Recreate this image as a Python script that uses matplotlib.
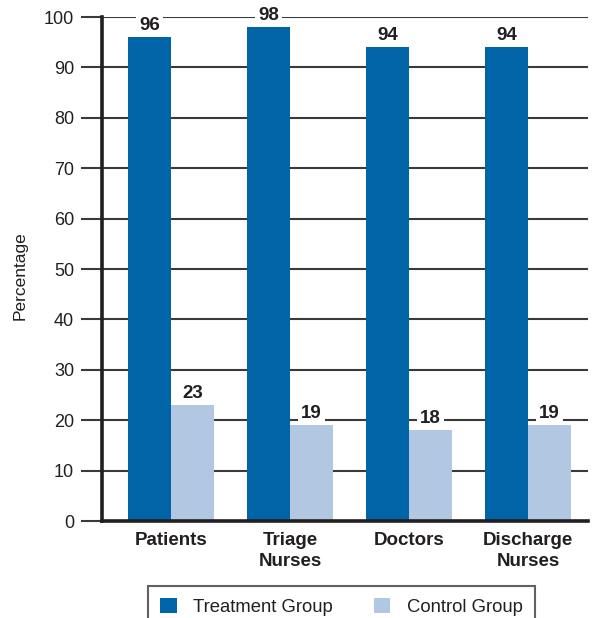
import matplotlib
matplotlib.use("Agg")
import matplotlib.pyplot as plt
from matplotlib.patches import Patch
import numpy as np

categories = ["Patients", "Triage\nNurses", "Doctors", "Discharge\nNurses"]
treatment = [96, 98, 94, 94]
control = [23, 19, 18, 19]
series_names = ["Treatment Group", "Control Group"]
yticks = [0, 10, 20, 30, 40, 50, 60, 70, 80, 90, 100]

c_treat = "#0064a6"
c_ctrl = "#b1c7e2"
ink = "#231f20"

plt.rcParams["font.family"] = ["Liberation Sans", "DejaVu Sans"]

W, H = 593, 618
fig = plt.figure(figsize=(W / 100, H / 100), dpi=100)
ax = fig.add_axes([102 / W, 1 - 521 / H, (588 - 102) / W, (521 - 17) / H])

step = 119.0
x = np.arange(len(categories))
bw = 43 / step

ax.set_xlim((102 - 171) / step, (588 - 171) / step)
ax.set_ylim(0, 100)

b1 = ax.bar(x - bw / 2, treatment, width=bw, color=c_treat, zorder=3)
b2 = ax.bar(x + bw / 2, control, width=bw, color=c_ctrl, zorder=3)

for bars, vals in ((b1, treatment), (b2, control)):
    for rect, v in zip(bars, vals):
        ax.annotate(str(v), (rect.get_x() + rect.get_width() / 2, v),
                    xytext=(0, 2.5), textcoords="offset points",
                    ha="center", va="bottom", fontsize=13.5, fontweight="bold",
                    color=ink, zorder=5,
                    bbox=dict(boxstyle="square,pad=0.15", fc="white", ec="none"))

ax.set_yticks(yticks)
ax.set_yticklabels([str(t) for t in yticks])
ax.yaxis.grid(True, color="#3a3a3a", linewidth=1.5, zorder=0)
ax.set_axisbelow(True)
ax.tick_params(axis="y", direction="out", length=15, width=1.5, color="#3a3a3a",
               labelsize=13, labelcolor=ink, pad=5)

ax.set_xticks(x)
ax.set_xticklabels(categories, fontsize=13.5, fontweight="bold", color=ink,
                   linespacing=1.3)
ax.tick_params(axis="x", length=0, pad=8)

for s in ("top", "right"):
    ax.spines[s].set_visible(False)
for s in ("left", "bottom"):
    ax.spines[s].set_linewidth(2.6)
    ax.spines[s].set_color(ink)
    ax.spines[s].set_zorder(4)

fig.text(20 / W, 1 - 276 / H, "Percentage", rotation=90, ha="center",
         va="center", fontsize=12.5, color=ink)

handles = [Patch(facecolor=c_treat, edgecolor="none"),
           Patch(facecolor=c_ctrl, edgecolor="none")]
leg = fig.legend(handles, series_names, loc="upper left",
                 bbox_to_anchor=(148 / W, 1 - 586 / H), ncol=2,
                 fontsize=13.3, frameon=True, fancybox=False,
                 handlelength=0.9, handleheight=0.9, handletextpad=0.9,
                 columnspacing=2.2, borderpad=0.65, borderaxespad=0)
leg.get_frame().set_edgecolor("#3a3a3a")
leg.get_frame().set_linewidth(1.5)
for t in leg.get_texts():
    t.set_color(ink)

fig.savefig("out.png", dpi=100)
